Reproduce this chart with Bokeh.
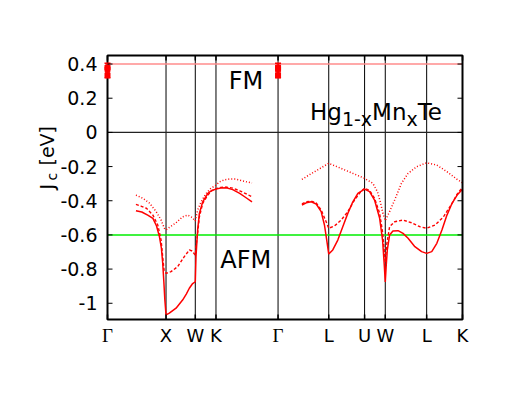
from math import pi
from bokeh.plotting import figure
from bokeh.models import Range1d, Label
from bokeh.core.properties import value
from bokeh.embed import file_html
from bokeh.resources import INLINE

# ---- k-path (cumulative path length) and labels ----
kpt_pos = [0.0, 1.0, 1.5, 1.8536, 2.9142, 3.7802, 4.3926, 4.7462, 5.4533, 6.0657]
kpt_names = ["Γ", "X", "W", "K", "Γ", "L", "U", "W", "L", "K"]

y_ticks = [0.4, 0.2, 0.0, -0.2, -0.4, -0.6, -0.8, -1.0]
y_tick_labels = ["0.4", "0.2", "0", "-0.2", "-0.4", "-0.6", "-0.8", "-1"]
y_lim = [-1.095, 0.45]

fm_level = 0.4
afm_level = -0.6

# ---- solid curve ----
solid1_k = [0.486, 0.586, 0.687, 0.776, 0.838, 0.888, 0.921, 0.943, 0.963, 0.980, 1.0,
            1.056, 1.171, 1.283, 1.346, 1.398, 1.449, 1.5,
            1.512, 1.540, 1.570, 1.627, 1.714, 1.779, 1.8536,
            1.934, 2.032, 2.139, 2.259, 2.362, 2.469]
solid1_j = [-0.458, -0.466, -0.484, -0.503, -0.548, -0.611, -0.677, -0.764, -0.875, -0.981, -1.068,
            -1.058, -1.029, -0.981, -0.946, -0.912, -0.887, -0.874,
            -0.727, -0.571, -0.474, -0.406, -0.357, -0.340, -0.332,
            -0.326, -0.324, -0.335, -0.357, -0.381, -0.406]
solid2_k = [3.322, 3.396, 3.481, 3.566, 3.651, 3.707, 3.746, 3.7802,
            3.849, 3.935, 4.020, 4.106, 4.192, 4.278, 4.3926,
            4.478, 4.563, 4.649, 4.700, 4.729, 4.7462,
            4.763, 4.781, 4.820, 4.877, 4.964, 5.050, 5.136, 5.252, 5.367, 5.4533,
            5.540, 5.627, 5.714, 5.800, 5.887, 5.974, 6.0657]
solid2_j = [-0.425, -0.412, -0.406, -0.419, -0.464, -0.542, -0.630, -0.712,
            -0.688, -0.630, -0.552, -0.474, -0.406, -0.357, -0.332,
            -0.347, -0.396, -0.501, -0.630, -0.776, -0.875,
            -0.776, -0.688, -0.601, -0.577, -0.575, -0.591, -0.620, -0.669, -0.698, -0.708,
            -0.698, -0.649, -0.571, -0.484, -0.415, -0.367, -0.333]

# ---- dashed curve ----
dash1_k = [0.486, 0.570, 0.665, 0.776, 0.859, 0.916, 0.943, 0.966, 1.0,
           1.085, 1.198, 1.312, 1.398, 1.444, 1.5,
           1.512, 1.540, 1.570, 1.627, 1.714, 1.779, 1.8536,
           1.934, 2.032, 2.139, 2.259, 2.362, 2.469]
dash1_j = [-0.421, -0.431, -0.444, -0.484, -0.542, -0.630, -0.727, -0.805, -0.825,
           -0.815, -0.786, -0.727, -0.688, -0.694, -0.718,
           -0.669, -0.591, -0.494, -0.415, -0.367, -0.343, -0.329,
           -0.322, -0.320, -0.326, -0.342, -0.358, -0.377]
dash2_k = [3.322, 3.396, 3.481, 3.566, 3.651, 3.736, 3.7802,
           3.878, 3.993, 4.106, 4.221, 4.336, 4.3926,
           4.478, 4.563, 4.649, 4.700, 4.7462,
           4.769, 4.820, 4.907, 5.050, 5.195, 5.338, 5.4533,
           5.597, 5.741, 5.887, 5.974, 6.0657]
dash2_j = [-0.419, -0.406, -0.402, -0.413, -0.454, -0.523, -0.561,
           -0.548, -0.513, -0.464, -0.396, -0.343, -0.327,
           -0.340, -0.386, -0.472, -0.583, -0.758,
           -0.659, -0.552, -0.523, -0.513, -0.529, -0.552, -0.561,
           -0.542, -0.494, -0.415, -0.361, -0.322]

# ---- dotted curve ----
dot1_k = [0.486, 0.608, 0.720, 0.832, 0.916, 0.972, 1.0,
          1.056, 1.171, 1.283, 1.369, 1.444, 1.5,
          1.540, 1.599, 1.686, 1.761, 1.8536,
          1.917, 2.002, 2.088, 2.174, 2.259, 2.374, 2.469]
dot1_j = [-0.367, -0.386, -0.415, -0.464, -0.513, -0.561, -0.571,
          -0.556, -0.529, -0.494, -0.484, -0.497, -0.519,
          -0.454, -0.406, -0.357, -0.329, -0.308,
          -0.289, -0.277, -0.273, -0.273, -0.279, -0.289, -0.296]
dot2_k = [3.322, 3.537, 3.7802,
          3.993, 4.221, 4.3926,
          4.534, 4.615, 4.666, 4.705, 4.7462,
          4.820, 4.907, 5.022, 5.136, 5.281, 5.4533,
          5.627, 5.800, 5.974, 6.0657]
dot2_j = [-0.275, -0.230, -0.181,
          -0.211, -0.244, -0.269,
          -0.298, -0.349, -0.413, -0.472, -0.516,
          -0.464, -0.396, -0.298, -0.240, -0.201, -0.178,
          -0.191, -0.230, -0.275, -0.295]

# ---- FM reference points at Gamma (with error bars) ----
ref_k = [0.0, 2.9142]
ref_vals = [0.38, 0.37, 0.335]
ref_err_lo = 0.32
ref_err_hi = 0.405

# ---- layout (pixels) ----
FONT = "DejaVu Sans"
CANVAS_W, CANVAS_H = 504, 388
FRAME_L, FRAME_R, FRAME_T, FRAME_B = 107, 462, 55, 319
TICK = 5
LABEL_SHIFT = 9.5  # baseline correction for Label annotations

X_MIN, X_MAX = kpt_pos[0], kpt_pos[-1]
Y_MIN, Y_MAX = y_lim
sx = (X_MAX - X_MIN) / (FRAME_R - FRAME_L)
sy = (Y_MAX - Y_MIN) / (FRAME_B - FRAME_T)


def px2x(px):
    return X_MIN + (px - FRAME_L) * sx


def py2y(py):
    return Y_MAX - (py - FRAME_T) * sy


p = figure(width=CANVAS_W, height=CANVAS_H,
           x_range=Range1d(px2x(0), px2x(CANVAS_W)),
           y_range=Range1d(py2y(CANVAS_H), py2y(0)),
           x_axis_type=None, y_axis_type=None,
           output_backend="svg", toolbar_location=None,
           min_border_left=0, min_border_right=0, min_border_top=0, min_border_bottom=0)
p.outline_line_color = None
p.background_fill_color = "white"
p.border_fill_color = "white"

# reference lines
inner_k = kpt_pos[1:-1]
p.segment(x0=inner_k, y0=[Y_MIN] * len(inner_k), x1=inner_k, y1=[Y_MAX] * len(inner_k),
          line_color="black", line_width=1)
p.segment(x0=[X_MIN], y0=[0.0], x1=[X_MAX], y1=[0.0], line_color="#222222", line_width=1.2)
p.segment(x0=[X_MIN], y0=[fm_level], x1=[X_MAX], y1=[fm_level], line_color="#ff8c8c", line_width=1.5)
p.segment(x0=[X_MIN], y0=[afm_level], x1=[X_MAX], y1=[afm_level], line_color="#00ee00", line_width=1.5)

RED = "#ff0000"
for kk, jj in ((solid1_k, solid1_j), (solid2_k, solid2_j)):
    p.line(kk, jj, line_color=RED, line_width=1.5)
for kk, jj in ((dash1_k, dash1_j), (dash2_k, dash2_j)):
    p.line(kk, jj, line_color=RED, line_width=1.4, line_dash="3 2")
for kk, jj in ((dot1_k, dot1_j), (dot2_k, dot2_j)):
    p.line(kk, jj, line_color=RED, line_width=1.5, line_dash="1 2")

# frame
p.quad(left=[X_MIN], right=[X_MAX], bottom=[Y_MIN], top=[Y_MAX],
       fill_alpha=0, line_color="black", line_width=2)

# reference points at Gamma (drawn above the frame lines)
px_, py_ = [], []
for k in ref_k:
    for v in ref_vals:
        px_.append(k)
        py_.append(v)
p.segment(x0=ref_k, y0=[ref_err_lo] * len(ref_k), x1=ref_k, y1=[ref_err_hi] * len(ref_k),
          line_color=RED, line_width=1.5)
p.scatter(ref_k * 2, [ref_err_lo] * len(ref_k) + [ref_err_hi] * len(ref_k),
          marker="dash", size=6, line_color=RED, line_width=1.5)
p.scatter(px_, py_, marker="square", size=5, fill_color=RED, line_color=RED)

# ticks (inward on all four sides)
tx = TICK * sx
ty = TICK * sy
n = len(y_ticks)
p.segment(x0=[X_MIN] * n, y0=y_ticks, x1=[X_MIN + tx] * n, y1=y_ticks, line_color="black", line_width=1)
p.segment(x0=[X_MAX - tx] * n, y0=y_ticks, x1=[X_MAX] * n, y1=y_ticks, line_color="black", line_width=1)
m = len(kpt_pos)
p.segment(x0=kpt_pos, y0=[Y_MIN] * m, x1=kpt_pos, y1=[Y_MIN + ty] * m, line_color="black", line_width=1.5)
p.segment(x0=kpt_pos, y0=[Y_MAX - ty] * m, x1=kpt_pos, y1=[Y_MAX] * m, line_color="black", line_width=1.5)

# tick labels
p.text(x=[px2x(FRAME_L - 10)] * n, y=y_ticks, text=y_tick_labels,
       text_font=value(FONT), text_font_size=value("19px"), text_color="black",
       text_align="right", text_baseline="middle")
sans_k = [k for k, nme in zip(kpt_pos, kpt_names) if nme != "Γ"]
sans_n = [nme for nme in kpt_names if nme != "Γ"]
greek_k = [k for k, nme in zip(kpt_pos, kpt_names) if nme == "Γ"]
greek_n = [nme for nme in kpt_names if nme == "Γ"]
p.text(x=sans_k, y=[py2y(FRAME_B + 16)] * len(sans_k), text=sans_n,
       text_font=value(FONT), text_font_size=value("18px"), text_color="black",
       text_align="center", text_baseline="alphabetic")
p.text(x=greek_k, y=[py2y(FRAME_B + 16)] * len(greek_k), text=greek_n,
       text_font=value("Liberation Serif"), text_font_size=value("19px"), text_color="black",
       text_align="center", text_baseline="alphabetic")

# annotations
p.add_layout(Label(x=px2x(245.5), y=py2y(90 - LABEL_SHIFT), text="FM", text_align="center",
                   text_baseline="alphabetic", text_font=FONT, text_font_size="24px", text_color="black"))
p.add_layout(Label(x=px2x(245.3), y=py2y(269 - LABEL_SHIFT), text="AFM", text_align="center",
                   text_baseline="alphabetic", text_font=FONT, text_font_size="24px", text_color="black"))

formula = [("Hg", 0.0, 0.0, "23px"), ("1-x", 31.9, -6.5, "19px"), ("Mn", 62.1, 0.0, "23px"),
           ("x", 96.5, -6.5, "19px"), ("Te", 107.7, 0.0, "23px")]
for txt, dx, dy, fs in formula:
    p.add_layout(Label(x=px2x(309.5), y=py2y(121 - LABEL_SHIFT), x_offset=dx, y_offset=dy, text=txt,
                       text_align="left", text_baseline="alphabetic", text_font=FONT, text_font_size=fs,
                       text_color="black"))

# y-axis label J_c [eV] (rotated)
ylab = [("J", 0.0, 0.0, "19px"), ("c", 4.5, 9.0, "14px"), ("[eV]", 0.0, 24.0, "19px")]
for txt, dx, dy, fs in ylab:
    p.add_layout(Label(x=px2x(46.5), y=py2y(189), x_offset=dx, y_offset=dy, text=txt, angle=pi / 2,
                       text_align="left", text_baseline="middle", text_font=FONT,
                       text_font_size=fs, text_color="black"))

open("out.html", "w").write(file_html(p, INLINE))
